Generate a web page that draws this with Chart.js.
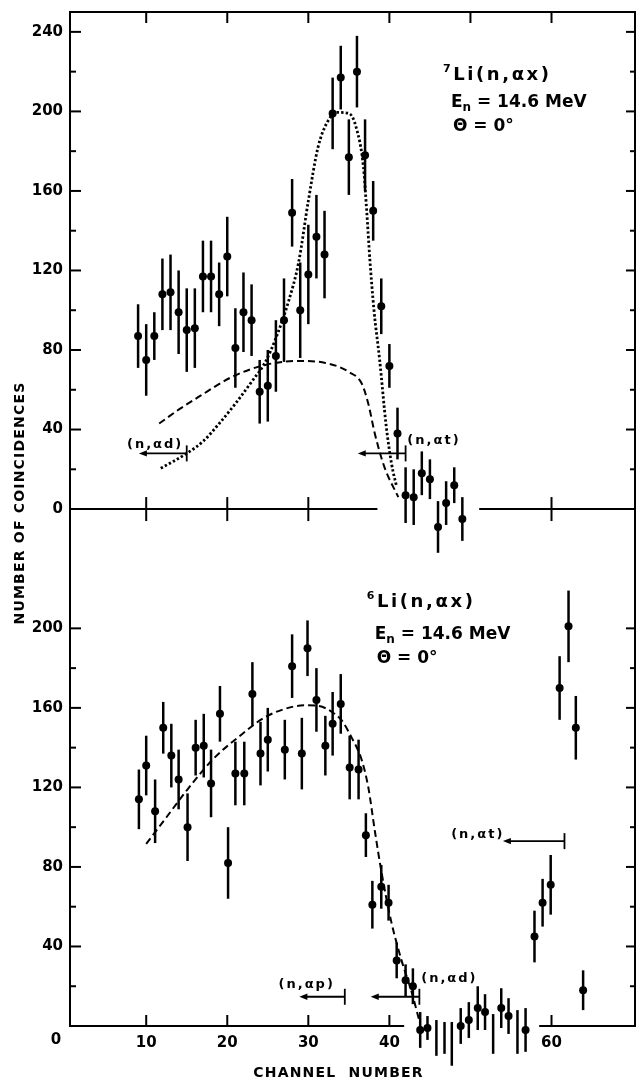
<!DOCTYPE html>
<html>
<head>
<meta charset="utf-8">
<script src="https://cdn.jsdelivr.net/npm/chart.js@4.4.1/dist/chart.umd.min.js"></script>
<style>
  html, body { margin: 0; padding: 0; background: #fff; }
</style>
</head>
<body>
<canvas id="chart" width="639" height="1080"></canvas>
<script>
// 7Li(n,ax) spectrum (upper panel)
const li7Channel = [9,10,11,12,13,14,15,16,17,18,19,20,21,22,23,24,25,26,27,28,29,30,31,32,33,34,35,36,37,38,39,40,41,42,43,44,45,46,47,48,49];
const li7Counts  = [87,75,87,108,109,99,90,91,117,117,108,127,81,99,95,59,62,77,95,149,100,118,137,128,199,217,177,220,178,150,102,72,38,7,6,18,15,-9,3,12,-5];
const li7Err     = [16,18,12,18,19,21,21,20,18,18,16,20,20,20,18,16,18,18,21,17,24,25,21,22,18,16,19,18,18,15,14,11,13,14,14,11,10,13,11,9,11];

// dotted and dashed calculated curves, upper panel
const li7DottedX = [11.8,15,17,19,21,23,24.7,26,27.6,28.8,30,31.2,32.4,33.5,35,35.9,36.8,37.2,37.6,38.1,38.8,39.6,40.3,40.85];
const li7DottedY = [20.5,28,34,43,53,64,74,86,105,124,155,182,195,199.5,199,192,172,150,125,100,75,42,22,12];
const li7DashedX = [11.6,14,16.5,20.6,24.7,28.8,32.1,35,36.6,37.4,38.2,39.4,41.1];
const li7DashedY = [43,50,56.5,66.5,72.5,74.5,73.5,69,63,53,38,21,6];

// 6Li(n,ax) spectrum (lower panel)
const li6Channel = [9.1,10.0,11.1,12.1,13.1,14.0,15.1,16.1,17.1,18.0,19.1,20.1,21.0,22.1,23.1,24.1,25.0,27.1,28.0,29.2,29.9,31.0,32.1,33.0,34.0,35.1,36.2,37.1,37.9,39.0,39.9,40.9,42.0,42.9,43.8,44.7,45.8,46.8,47.7,48.8,49.8,50.9,51.8,52.8,53.8,54.7,55.8,56.8,57.9,58.9,59.9,61.0,62.1,63.0,63.9];
const li6Counts  = [114,131,108,150,136,124,100,140,141,122,157,82,127,127,167,137,144,139,181,137,190,164,141,152,162,130,129,96,61,70,62,33,23,20,-2,-1,-6,-6,-9,0,3,9,7,-4,9,5,-3,-2,45,62,71,170,201,150,18];
const li6Err     = [15,15,16,13,16,15,17,14,16,17,14,18,16,16,16,16,16,15,16,18,14,16,15,16,15,16,15,11,12,11,9,9,8,9,9,6,9,8,11,9,9,11,9,10,10,9,11,11,13,12,15,16,18,16,10];

const li6DashedX = [10.0,12.5,14.9,18.2,21.4,24.7,28,29.6,31.25,32.9,34.1,35.3,36.6,37.4,38.2,39.0,40.2,41.5,42.7,43.7];
const li6DashedY = [91.6,105,118,134,145.4,155.4,160.5,161.3,161,158,153.8,145.4,133.6,120,98.3,78,53,33,17.7,2.6];

// tick labels
const xTickLabels = [10, 20, 30, 40, 60];
const yTopLabels = [0, 40, 80, 120, 160, 200, 240];
const yBotLabels = [40, 80, 120, 160, 200];

// tick marks
const topEdgeTicks = [10, 20, 30, 40, 50, 60];
const midLineTicks = [10, 20, 30, 60];
const baseLineTicks = [10, 20, 30, 40, 60];
const yTopMarks = [20, 40, 60, 80, 100, 120, 140, 160, 180, 200, 220, 240];
const yBotMarks = [20, 40, 60, 80, 100, 120, 140, 160, 180, 200];

// axis lines are broken where the spectra dip below zero
const midLineGap = [38.4, 51.2];
const baseLineGap = [41.7, 58.6];

// reaction thresholds: label + arrow (x in channels, y in counts)
const thresholds = [
  { axis: 'yTop', text: '(n,αd)', labelX: 11.1, labelY: 33, barX: 15.0, tipX: 9.1, arrowY: 28 },
  { axis: 'yTop', text: '(n,αt)', labelX: 45.5, labelY: 35, barX: 42.0, tipX: 36.1, arrowY: 28 },
  { axis: 'yBot', text: '(n,αt)', labelX: 50.9, labelY: 97, barX: 61.6, tipX: 54.0, arrowY: 93 },
  { axis: 'yBot', text: '(n,αp)', labelX: 29.8, labelY: 21.5, barX: 34.5, tipX: 28.9, arrowY: 14.7 },
  { axis: 'yBot', text: '(n,αd)', labelX: 47.4, labelY: 24.5, barX: 43.7, tipX: 37.7, arrowY: 14.7 }
];

const FONT = 'DejaVu Sans';

function pts(xs, ys) {
  return xs.map((x, i) => ({ x: x, y: ys[i] }));
}

function boldFont(size) {
  return 'bold ' + size + 'px "' + FONT + '"';
}

// draw a run of text pieces (for super/subscripts)
function drawRich(ctx, x, y, parts, spacing) {
  let cx = x;
  ctx.letterSpacing = (spacing || 0) + 'px';
  for (const p of parts) {
    ctx.font = boldFont(p.size);
    ctx.fillText(p.t, cx, y + (p.dy || 0));
    cx += ctx.measureText(p.t).width;
  }
  ctx.letterSpacing = '0px';
}

const errorBarPlugin = {
  id: 'errorBars',
  beforeDatasetsDraw(chart) {
    const ctx = chart.ctx;
    const xs = chart.scales.x;
    ctx.save();
    ctx.strokeStyle = '#000';
    ctx.lineWidth = 2.5;
    chart.data.datasets.forEach(ds => {
      if (!ds.errors) return;
      const ys = chart.scales[ds.yAxisID];
      ds.data.forEach((p, i) => {
        const px = xs.getPixelForValue(p.x);
        ctx.beginPath();
        ctx.moveTo(px, ys.getPixelForValue(p.y - ds.errors[i]));
        ctx.lineTo(px, ys.getPixelForValue(p.y + ds.errors[i]));
        ctx.stroke();
      });
    });
    ctx.restore();
  }
};

const framePlugin = {
  id: 'frame',
  afterDraw(chart) {
    const ctx = chart.ctx;
    const a = chart.chartArea;
    const x = chart.scales.x, yTop = chart.scales.yTop, yBot = chart.scales.yBot;
    const seg = (x1, y1, x2, y2) => { ctx.beginPath(); ctx.moveTo(x1, y1); ctx.lineTo(x2, y2); ctx.stroke(); };

    ctx.save();
    ctx.strokeStyle = '#000';
    ctx.fillStyle = '#000';
    ctx.lineWidth = 2;
    ctx.lineCap = 'square';

    // box
    seg(a.left, a.top, a.right, a.top);
    seg(a.left, a.top, a.left, a.bottom);
    seg(a.right, a.top, a.right, a.bottom);
    const yMid = yTop.getPixelForValue(0);
    const yBase = yBot.getPixelForValue(0);
    seg(a.left, yMid, x.getPixelForValue(midLineGap[0]), yMid);
    seg(x.getPixelForValue(midLineGap[1]), yMid, a.right, yMid);
    seg(a.left, yBase, x.getPixelForValue(baseLineGap[0]), yBase);
    seg(x.getPixelForValue(baseLineGap[1]), yBase, a.right, yBase);

    ctx.lineCap = 'butt';
    topEdgeTicks.forEach(v => { const px = x.getPixelForValue(v); seg(px, a.top, px, a.top + 11); });
    midLineTicks.forEach(v => { const px = x.getPixelForValue(v); seg(px, yMid - 12, px, yMid + 12); });
    baseLineTicks.forEach(v => { const px = x.getPixelForValue(v); seg(px, yBase, px, yBase - 11); });
    const yMarks = (scale, marks) => marks.forEach(v => {
      const py = scale.getPixelForValue(v);
      const major = v % 40 === 0;
      seg(a.left, py, a.left + (major ? 11 : 6), py);
      seg(a.right, py, a.right - (major ? 9 : 5), py);
    });
    yMarks(yTop, yTopMarks);
    yMarks(yBot, yBotMarks);

    // threshold arrows
    ctx.lineWidth = 1.8;
    thresholds.forEach(t => {
      const ys = chart.scales[t.axis];
      const py = ys.getPixelForValue(t.arrowY);
      const bx = x.getPixelForValue(t.barX);
      const tx = x.getPixelForValue(t.tipX);
      seg(bx, py, tx + 5, py);
      seg(bx, py - 8, bx, py + 8);
      ctx.beginPath();
      ctx.moveTo(tx, py);
      ctx.lineTo(tx + 8, py - 3.2);
      ctx.lineTo(tx + 8, py + 3.2);
      ctx.closePath();
      ctx.fill();
      ctx.font = boldFont(13);
      ctx.textAlign = 'center';
      ctx.textBaseline = 'alphabetic';
      ctx.letterSpacing = '2px';
      ctx.fillText(t.text, x.getPixelForValue(t.labelX), ys.getPixelForValue(t.labelY) + 5);
      ctx.letterSpacing = '0px';
    });

    // reaction captions
    ctx.textAlign = 'left';
    ctx.textBaseline = 'alphabetic';
    const caption = (scale, cx, y1, y2, y3, mass) => {
      const px = x.getPixelForValue(cx);
      drawRich(ctx, px, scale.getPixelForValue(y1), [{ t: mass, size: 11, dy: -8 }, { t: 'Li(n,αx)', size: 18 }], 2.6);
      drawRich(ctx, px + 8, scale.getPixelForValue(y2), [{ t: 'E', size: 17 }, { t: 'n', size: 12, dy: 4 }, { t: ' = 14.6 MeV', size: 17 }], 0);
      drawRich(ctx, px + 10, scale.getPixelForValue(y3), [{ t: 'Θ = 0°', size: 17 }], 0);
    };
    caption(yTop, 46.6, 216, 202, 190, '7');
    caption(yBot, 37.2, 210.5, 194.5, 182.5, '6');

    // axis titles and corner zero
    ctx.font = boldFont(15);
    ctx.textAlign = 'center';
    ctx.textBaseline = 'middle';
    ctx.fillText('0', a.left - 14, yBase + 14);

    ctx.font = boldFont(14);
    ctx.letterSpacing = '1.2px';
    ctx.fillText('CHANNEL  NUMBER', (a.left + a.right) / 2 - 14, 1073);
    ctx.translate(20, (a.top + a.bottom) / 2 - 16);
    ctx.rotate(-Math.PI / 2);
    ctx.fillText('NUMBER OF COINCIDENCES', 0, 0);
    ctx.letterSpacing = '0px';
    ctx.restore();
  }
};

const tickFont = { family: FONT, size: 15, weight: 'bold' };

const yScale = (min, max, weight, labels) => ({
  type: 'linear',
  position: 'left',
  stack: 'panels',
  stackWeight: weight,
  min: min,
  max: max,
  grid: { display: false, drawTicks: false },
  border: { display: false },
  ticks: { font: tickFont, color: '#000', padding: 7, autoSkip: false },
  afterBuildTicks: s => { s.ticks = labels.map(v => ({ value: v })); },
  afterFit: s => { s.width = 70; s.paddingTop = 0; s.paddingBottom = 0; }
});

new Chart(document.getElementById('chart'), {
  type: 'scatter',
  data: {
    datasets: [
      {
        label: '7Li(n,αx)',
        data: pts(li7Channel, li7Counts),
        errors: li7Err,
        yAxisID: 'yTop',
        pointRadius: 4,
        backgroundColor: '#000',
        borderWidth: 0,
        clip: false
      },
      {
        label: '7Li dotted curve',
        data: pts(li7DottedX, li7DottedY),
        yAxisID: 'yTop',
        showLine: true,
        pointRadius: 0,
        borderColor: '#000',
        borderWidth: 2.8,
        borderDash: [2.4, 2.2],
        cubicInterpolationMode: 'monotone',
        clip: false
      },
      {
        label: '7Li dashed curve',
        data: pts(li7DashedX, li7DashedY),
        yAxisID: 'yTop',
        showLine: true,
        pointRadius: 0,
        borderColor: '#000',
        borderWidth: 2,
        borderDash: [7, 4],
        cubicInterpolationMode: 'monotone',
        clip: false
      },
      {
        label: '6Li(n,αx)',
        data: pts(li6Channel, li6Counts),
        errors: li6Err,
        yAxisID: 'yBot',
        pointRadius: 4,
        backgroundColor: '#000',
        borderWidth: 0,
        clip: false
      },
      {
        label: '6Li dashed curve',
        data: pts(li6DashedX, li6DashedY),
        yAxisID: 'yBot',
        showLine: true,
        pointRadius: 0,
        borderColor: '#000',
        borderWidth: 2,
        borderDash: [7, 4],
        cubicInterpolationMode: 'monotone',
        clip: false
      }
    ]
  },
  options: {
    responsive: false,
    animation: false,
    events: [],
    layout: { padding: { top: 12, right: 2, left: 0, bottom: 0 } },
    plugins: { legend: { display: false }, tooltip: { enabled: false } },
    scales: {
      x: {
        type: 'linear',
        position: 'bottom',
        min: 0.6,
        max: 70.3,
        grid: { display: false, drawTicks: false },
        border: { display: false },
        ticks: { font: tickFont, color: '#000', padding: 8, maxRotation: 0, autoSkip: false },
        afterBuildTicks: s => { s.ticks = xTickLabels.map(v => ({ value: v })); },
        afterFit: s => { s.height = 54; s.paddingLeft = 0; s.paddingRight = 0; }
      },
      yBot: yScale(0, 260, 260, yBotLabels),
      yTop: yScale(0, 250, 250, yTopLabels)
    }
  },
  plugins: [errorBarPlugin, framePlugin]
});
</script>
</body>
</html>
